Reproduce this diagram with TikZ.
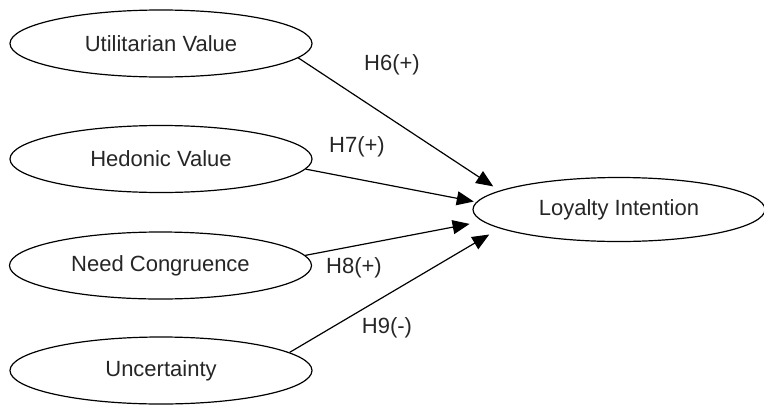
\documentclass[tikz,border=0pt]{standalone}
\usepackage{fontspec}
\setmainfont{Liberation Sans}
\usetikzlibrary{shapes.geometric,arrows.meta}
\begin{document}
\begin{tikzpicture}[x=1pt,y=-1pt,
  latent/.style={ellipse,draw,line width=1.2pt,inner sep=0pt,minimum width=302pt,minimum height=67pt,font=\fontsize{22}{26}\selectfont,text=black!85},
  outcome/.style={latent,minimum width=292pt,minimum height=64pt},
  hpath/.style={line width=1.2pt,-{Triangle[length=17pt,width=14pt]}},
  hyp/.style={font=\fontsize{22}{26}\selectfont,inner sep=0pt,text=black!85}]
\useasboundingbox (0,0) rectangle (764,405);
\node[latent] (u) at (161,43.5) {Utilitarian Value};
\node[latent] (h) at (161,159) {Hedonic Value};
\node[latent] (n) at (160.5,265.5) {Need Congruence};
\node[latent] (c) at (161,370.5) {Uncertainty};
\node[outcome] (l) at (619,209.5) {Loyalty Intention};
\draw[hpath,shorten >=7.6pt] (u.-6.5) -- (l.171.3);
\draw[hpath,shorten >=2.6pt] (h.-4) -- (l.177.6);
\draw[hpath,shorten >=13.2pt] (n.4.2) -- (l.185.7);
\draw[hpath,shorten >=12pt] (c.8) -- (l.189.6);
\node[hyp] (h6) at (392,65) {H6(+)};
\node[hyp] (h7) at (357,147) {H7(+)};
\node[hyp] (h8) at (354,268) {H8(+)};
\node[hyp] (h9) at (387,328) {H9(-)};
\end{tikzpicture}
\end{document}
